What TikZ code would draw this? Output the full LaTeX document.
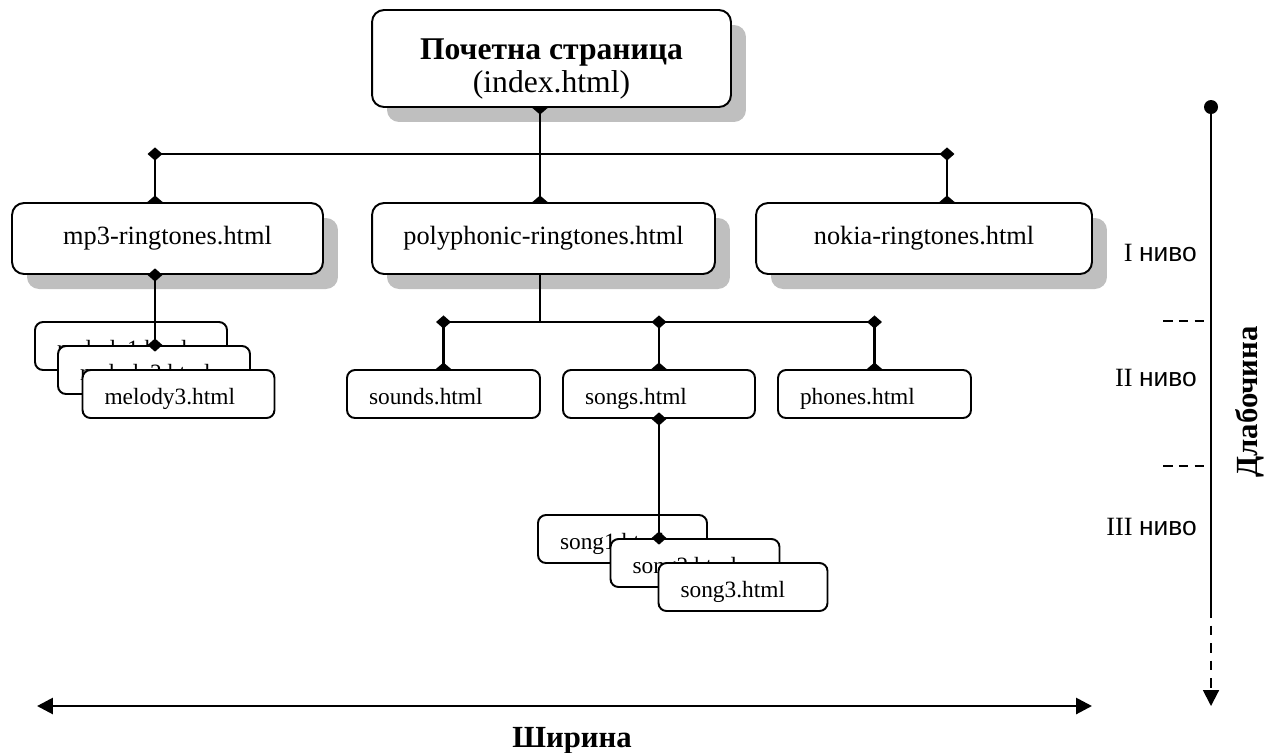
\documentclass[tikz,border=0pt]{standalone}
\usepackage{fontspec}
\setmainfont{Liberation Serif}
\newfontfamily\arialfont{Liberation Sans}
\usetikzlibrary{arrows.meta,shadows}
\tikzset{>={Triangle[length=9pt,width=9pt]}}
\tikzset{dm/.tip={Diamond[length=7.5pt,width=8.5pt]},
         hd/.tip={Triangle[reversed,length=3.75pt,width=8.5pt]}}

\begin{document}
\begin{tikzpicture}[x=0.02cm,y=-0.02cm,
    page/.style={draw, line width=1.1pt, rounded corners=0.24cm, fill=white,
      drop shadow={shadow xshift=0.3cm,shadow yshift=-0.3cm,fill=black!25,opacity=1},
      font=\fontsize{15}{18}\selectfont, minimum height=1.42cm},
    subpage/.style={draw, line width=1.1pt, rounded corners=0.16cm, fill=white,
      font=\fontsize{13.3}{16}\selectfont, minimum height=0.96cm, inner xsep=0.44cm, align=left,
      text height=12.4pt, text depth=0pt},
    link/.style={line width=1.2pt},
    level/.style={anchor=east, font=\fontsize{15}{18}\selectfont},
    bold/.style={font=\bfseries\fontsize{17.5}{20}\selectfont}]
    \useasboundingbox (0,0) rectangle (1264,752);

    % pages
    \node[page, minimum width=7.18cm, minimum height=1.94cm, align=center,
      font=\fontsize{18}{18.7}\selectfont] (home) at (551.5,58.5)
      {\rule{0pt}{24pt}\textbf{Почетна страница}\\(index.html)};
    \node[page, minimum width=6.22cm] (mp3) at (167.5,238.5) {mp3-ringtones.html};
    \node[page, minimum width=6.86cm] (poly) at (543.5,238.5) {polyphonic-ringtones.html};
    \node[page, minimum width=6.72cm] (nokia) at (924,238.5) {nokia-ringtones.html};

    \node[subpage, text width=2.96cm] (mel1) at (131,346) {melody1.html};
    \node[subpage, text width=2.96cm] (mel2) at (154,370) {melody2.html};
    \node[subpage, text width=2.96cm] (mel3) at (178.5,394) {melody3.html};

    \node[subpage, text width=2.98cm] (sounds) at (443.5,394) {sounds.html};
    \node[subpage, text width=2.96cm] (songs) at (659,394) {songs.html};
    \node[subpage, text width=2.98cm] (phones) at (874.5,394) {phones.html};

    \node[subpage, text width=2.5cm] (song1) at (622.5,539) {song1.html};
    \node[subpage, text width=2.5cm] (song2) at (695,563) {song2.html};
    \node[subpage, text width=2.5cm] (song3) at (743,587) {song3.html};

    % links
    \coordinate (j0) at (540,154);
    \coordinate (j1) at (155,154);
    \coordinate (j2) at (947,154);
    \coordinate (k0) at (540,322);
    \draw[link] (j1) -- (j2);
    \draw[link, hd-hd] (j0 |- home.south) -- (j0 |- poly.north);
    \draw[link, dm-hd, shorten <=-3.75pt] (j1) -- (j1 |- mp3.north);
    \draw[link, dm-hd, shorten <=-3.75pt] (j2) -- (j2 |- nokia.north);
    \draw[link, dm-dm, shorten <=-3.75pt, shorten >=-3.75pt] (j1 |- mp3.south) -- (j1 |- mel2.north);
    \draw[link] (k0 |- poly.south) -- (k0);
    \draw[link] (k0 -| sounds.north) -- (k0 -| phones.north);
    \foreach \n in {sounds,songs,phones}
      \draw[link, dm-hd, shorten <=-3.75pt] (k0 -| \n.north) -- (\n.north);
    \draw[link, dm-dm, shorten <=-3.75pt, shorten >=-3.75pt] (songs.south) -- (songs.south |- song2.north);

    % depth axis
    \node[circle, fill, inner sep=0, minimum size=0.28cm] (top) at (1211,107) {};
    \coordinate (mid) at (1211,608);
    \coordinate (bot) at (1211,706);
    \coordinate (t1) at (1163,321);
    \coordinate (t2) at (1163,466);
    \draw[line width=1.1pt] (top) -- (mid);
    \draw[line width=1.1pt, dash pattern=on 5.5pt off 4.5pt, ->] (mid) -- (bot);
    \draw[line width=0.8pt, dash pattern=on 5.5pt off 3.5pt] (t1) -- (t1 -| top);
    \draw[line width=0.8pt, dash pattern=on 5.5pt off 3.5pt] (t2) -- (t2 -| top);
    \node[level] (lvl1) at (1203,253) {I \arialfont ниво};
    \node[level] (lvl2) at (1203,378) {II \arialfont ниво};
    \node[level] (lvl3) at (1203,527) {III \arialfont ниво};
    \node[bold, rotate=90] (depth) at (1250,402) {Длабочина};

    % width axis
    \coordinate (wl) at (37,706);
    \coordinate (wr) at (1092,706);
    \draw[line width=1.6pt, <->] (wl) -- (wr);
    \node[bold, anchor=base] (breadth) at (572,747) {Ширина};
\end{tikzpicture}
\end{document}
